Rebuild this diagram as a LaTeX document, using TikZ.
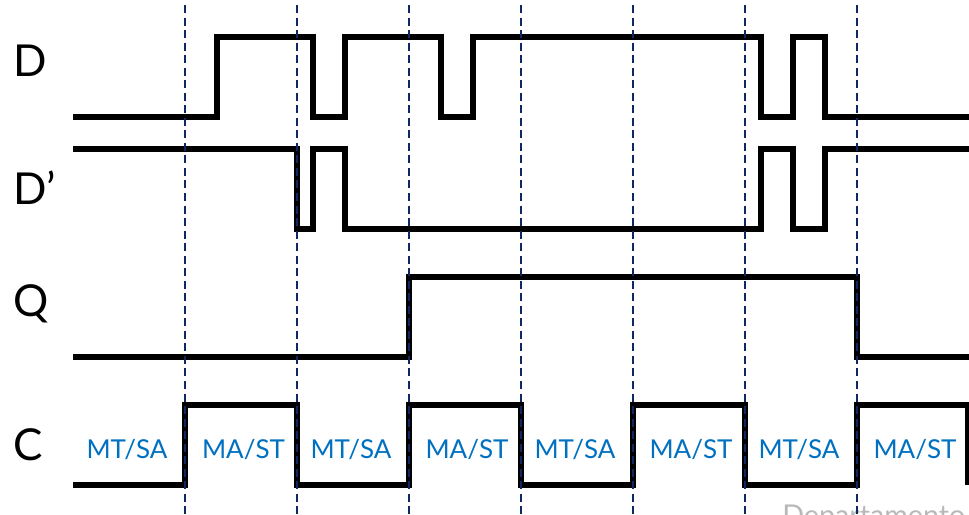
\documentclass[tikz,border=0pt]{standalone}
\usepackage{fontspec}
\setmainfont{Lato}
\definecolor{guide}{RGB}{15,40,100}
\definecolor{phase}{RGB}{0,112,192}
\tikzset{
  wave/.style={line width=4pt,black,line join=miter},
  guideline/.style={guide,line width=1pt,dash pattern=on 6pt off 3.4pt},
  signal/.style={font=\fontsize{33}{33}\selectfont,anchor=base west,inner sep=0pt},
  phaselabel/.style={font=\fontsize{19.5}{20}\selectfont,text=phase,anchor=base,inner sep=0pt},
  footer/.style={font=\fontsize{21.5}{22}\selectfont,text=black!28,anchor=base west,inner sep=0pt}
}
\begin{document}
\begin{tikzpicture}[x=0.75pt,y=-0.75pt]
\useasboundingbox (0,0) rectangle (969,514);
\clip (0,0) rectangle (969,514);
% footer, cut by the lower edge as in the reference
\node[footer] (foot) at (782,525) {Departamento};
% waves
\coordinate (ds) at (73,117); \coordinate (de) at (969,117);
\coordinate (ns) at (73,149); \coordinate (ne) at (969,149);
\coordinate (qs) at (73,357); \coordinate (qe) at (969,357);
\coordinate (cs) at (73,485); \coordinate (ce) at (968,485);
\draw[wave] (ds) -| (217,37) -| (313,117) -| (345,37) -| (441,117) -| (473,37) -| (761,117) -| (793,37) -| (825,117) -- (de);
\draw[wave] (ns) -| (297,229) -| (313,149) -| (345,229) -| (761,149) -| (793,229) -| (825,149) -- (ne);
\draw[wave] (qs) -| (409,277) -| (857,357) -- (qe);
\draw[wave] (cs) -| (185,405) -| (297,485) -| (409,405) -| (521,485) -| (633,405) -| (745,485) -| (857,405) -| (ce);
% guide lines
\foreach \x in {185,297,409,521,633,745,857}
  \draw[guideline] (\x,5) -- (\x,514);
% labels
\node[signal] (lD) at (13,76) {D};
\node[signal] (lDp) at (13,204) {D’};
\node[signal] (lQ) at (13,316) {Q};
\node[signal] (lC) at (13,460) {C};
\foreach \x/\t [count=\i] in {127/MT\slash SA,243.5/MA\slash ST,351/MT\slash SA,467/MA\slash ST,575/MT\slash SA,691/MA\slash ST,799/MT\slash SA,915/MA\slash ST}
  \node[phaselabel] (ph\i) at (\x,458) {\t};
\end{tikzpicture}
\end{document}
